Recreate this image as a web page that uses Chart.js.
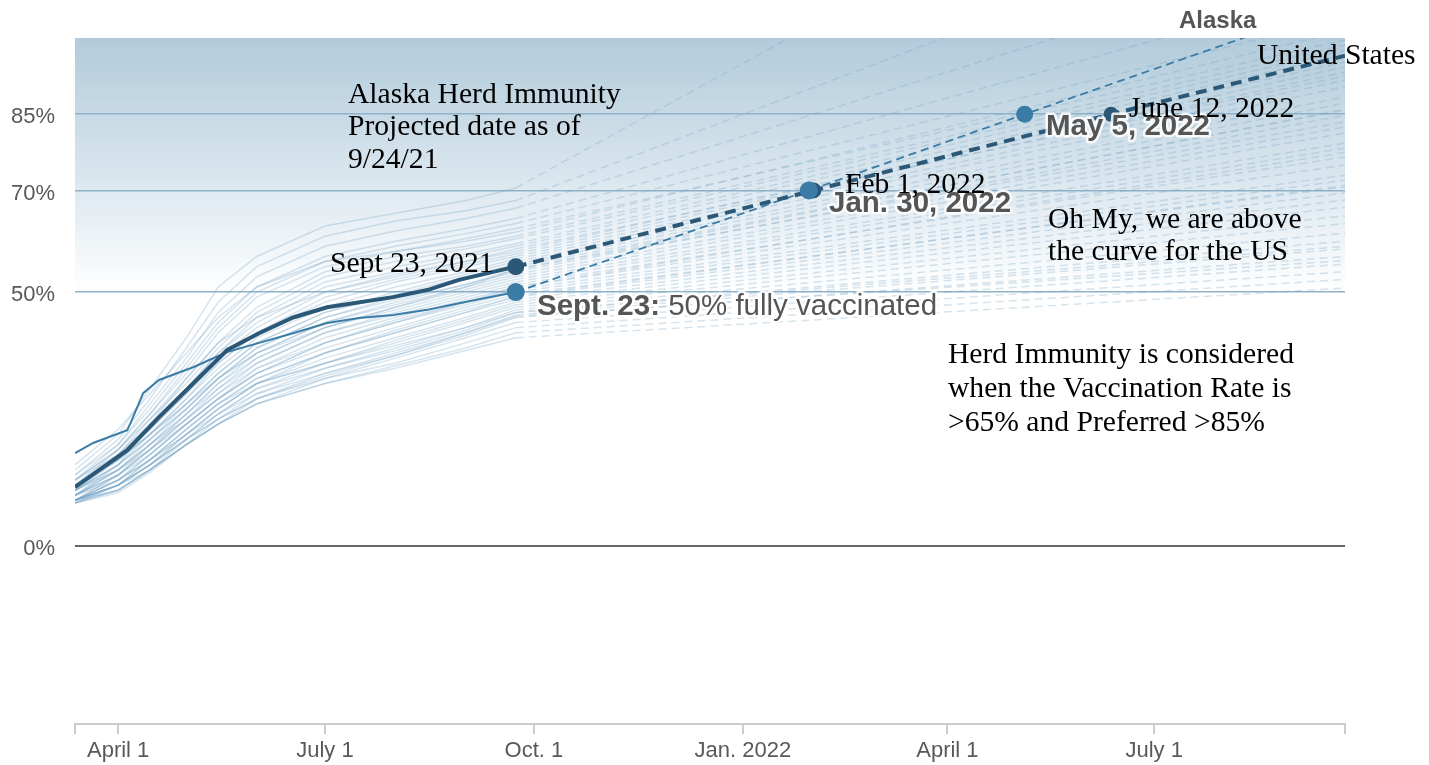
<!DOCTYPE html>
<html><head><meta charset="utf-8">
<script src="https://cdn.jsdelivr.net/npm/chart.js@4.4.1/dist/chart.umd.min.js"></script>
<style>html,body{margin:0;padding:0;background:#fff;}canvas{display:block;}</style>
</head><body>
<canvas id="c" width="1429" height="765"></canvas>
<script>
// ---------- DATA ----------
const START = '2021-03-13';
const END = '2022-09-23';
const tickDates = ['2021-04-01','2021-07-01','2021-10-01','2022-01-01','2022-04-01','2022-07-01'];
const tickLabels = ['April 1','July 1','Oct. 1','Jan. 2022','April 1','July 1'];
const yTicks = [0, 50, 70, 85];

// state lines: observed dates + projection end date
const stateDates = ['2021-03-13','2021-04-01','2021-04-15','2021-05-01','2021-05-15','2021-06-01','2021-07-01','2021-08-01','2021-09-01','2021-09-23','2022-09-23'];
const stateValues = [
  [15,22,31,41,51,57,63,65.5,68,70.5,160],
  [14,21,29,39,48,55,61,64,66,68,130],
  [13,20,28,37,46,53,59,62,64.5,66.5,118],
  [14,20,27,36,44,51,57,60,62.5,64.5,110],
  [13,19,26,35,43,50,56,59,61.5,63.5,104],
  [16,23,30,38,45,51,56,58,60,61.8,101.5],
  [12,19,26,34,42,49,55,58,60.5,62.5,99.6],
  [13,19,25,33,40,47,54,57,59,61,98.6],
  [12,18,25,32,39,46,53,56,58.5,60.5,97.6],
  [13,18,24,31,38,45,52,55,57.5,59.5,96.7],
  [12,18,24,31,38,44,51,54,57,59,95.3],
  [11,17,23,30,37,43,50,53.5,56,58,94.3],
  [12,17,23,30,36,42,49,52.5,55.5,57.5,93.3],
  [10,16,24,33,40,45,50,53,56,58.5,92.5],
  [11,16,22,29,36,42,48,52,55,57,91.7],
  [11,17,22,29,35,41,47,51,54,56.5,90.4],
  [12,17,22,28,34,40,46,50,53.5,56,88.4],
  [11,16,21,28,34,40,46,49.5,53,55.5,87.2],
  [12,17,22,28,33,38,43,47,51,54.5,86],
  [10,15,21,27,33,39,45,49,52.5,55,85.8],
  [11,16,21,27,33,38,44,48,51.5,54,84.8],
  [9,14,20,27,33,39,45,48.5,51.5,54.5,83.5],
  [10,15,20,26,32,38,44,47.5,51,53.5,82.5],
  [11,15,20,26,32,37,43,47,50.5,53,81.3],
  [10,14,19,26,31,37,43,46.5,50,52.5,79.3],
  [10,15,20,25,31,36,42,46,49.5,52,78.3],
  [11,15,19,24,29,34,40,44,48,51,77.5],
  [9,14,19,25,30,36,42,45.5,49,51.5,76.6],
  [10,14,19,25,30,35,41,45,48.5,51,75],
  [9,13,18,24,29,35,40,44.5,48,50.5,73],
  [9,13,18,24,29,34,40,44,47.5,50,72],
  [10,13,17,22,27,32,38,42,46,49.2,71],
  [10,14,18,24,29,34,39,43,47,49.5,70.7],
  [9,13,17,23,28,33,38,42.5,46.5,49,69.5],
  [9,12,17,23,28,33,38,42,46,48.5,68.1],
  [9,13,17,22,27,32,37,41,45,48,66.7],
  [8.5,12,16,22,27,32,36,40.5,44.5,47.5,65],
  [9,12,16,22,26,31,36,40,44,47,63.5],
  [9,12,16,21,26,31,35,39,43,46.5,61.6],
  [9,12,16,21,26,30,35,38.5,42.5,46,60],
  [8.5,12,17,23,28,32,36,39.5,43,46,59],
  [8.5,11,15,21,25,30,34,38,42,45.5,58.5],
  [9,11,15,20,25,29,34,37.5,41.5,45,57],
  [9,12,16,21,25,29,33.5,37.5,42,45.2,56.2],
  [9,12,15,20,24,29,33,37,41,44,55.5],
  [8.5,11,15,20,24,28,33,36,40,43,54],
  [9,11,15,20,24,28,32,35.5,39,42,52.5],
  [8.5,10.5,14.5,20,24,28,32,35,38.5,41,50.8]
];

const usDates = ['2021-03-13','2021-04-05','2021-04-19','2021-05-04','2021-05-19','2021-06-02','2021-06-17','2021-07-02','2021-07-31','2021-08-15','2021-08-29','2021-09-23'];
const usValues = [11.6,18.9,25.4,32,38.6,41.9,45,47,49,50.4,52.4,55];
const usProjDates = ['2021-09-23','2022-02-01','2022-06-12','2022-09-23'];
const usProjValues = [55,70,85,96.5];
const usMilestoneDates = ['2021-09-23','2022-02-01','2022-06-12'];
const usMilestoneValues = [55,70,85];

const akDates = ['2021-03-13','2021-03-21','2021-04-05','2021-04-07','2021-04-12','2021-04-19','2021-05-04','2021-05-19','2021-06-02','2021-06-17','2021-07-02','2021-07-16','2021-07-31','2021-08-15','2021-08-29','2021-09-23'];
const akValues = [18.3,20.3,22.8,24.8,30.1,32.7,35.2,38.2,40,41.9,43.9,44.9,45.5,46.5,47.8,50];
const akProjDates = ['2021-09-23','2022-01-30','2022-05-05','2022-09-23'];
const akProjValues = [50,70,85,107];
const akMilestoneDates = ['2021-09-23','2022-01-30','2022-05-05'];
const akMilestoneValues = [50,70,85];

// ---------- HELPERS ----------
function day(s){
  const [y,m,d] = s.split('-').map(Number);
  const [y0,m0,d0] = START.split('-').map(Number);
  return Math.round((Date.UTC(y,m-1,d) - Date.UTC(y0,m0-1,d0)) / 86400000);
}
function pts(dates, vals){ return dates.map((d,i)=>({x:day(d), y:vals[i]})); }

const US_COLOR = '#2b5877';
const AK_COLOR = '#3b7ca6';
const STATE_COLOR = 'rgba(118,164,198,0.30)';
const projIdx = stateDates.length - 1;

const datasets = [];
stateValues.forEach((vals) => {
  datasets.push({
    data: pts(stateDates, vals),
    borderColor: STATE_COLOR, borderWidth: 1.5, pointRadius: 0, order: 100,
    segment: { borderDash: ctx => ctx.p1DataIndex >= projIdx ? [8,5] : undefined }
  });
});
datasets.push({ data: pts(akDates, akValues), borderColor: AK_COLOR, borderWidth: 2, pointRadius: 0, order: 6 });
datasets.push({ data: pts(akProjDates, akProjValues), borderColor: AK_COLOR, borderWidth: 1.8, borderDash: [8,5], pointRadius: 0, order: 6 });
datasets.push({ data: pts(usDates, usValues), borderColor: US_COLOR, borderWidth: 4, pointRadius: 0, order: 5 });
datasets.push({ data: pts(usProjDates, usProjValues), borderColor: US_COLOR, borderWidth: 4, borderDash: [11,7], pointRadius: 0, order: 5 });
datasets.push({ data: pts(usMilestoneDates, usMilestoneValues), showLine: false, pointRadius: [8.5,8,7.5], pointBackgroundColor: US_COLOR, pointBorderWidth: 0, order: 2 });
datasets.push({ data: pts(akMilestoneDates, akMilestoneValues), showLine: false, pointRadius: [9,9,8.5], pointBackgroundColor: AK_COLOR, pointBorderWidth: 0, order: 1 });

// ---------- PLUGINS ----------
const bgPlugin = {
  id: 'bg',
  beforeDraw(chart){
    const {ctx, chartArea, scales:{y}} = chart;
    const top = y.getPixelForValue(100), bot = y.getPixelForValue(50);
    const g = ctx.createLinearGradient(0, top, 0, bot);
    g.addColorStop(0, 'rgb(178,203,219)');
    g.addColorStop(0.55, 'rgb(218,230,238)');
    g.addColorStop(1, 'rgba(255,255,255,1)');
    ctx.save(); ctx.fillStyle = g;
    ctx.fillRect(chartArea.left, top, chartArea.right - chartArea.left, bot - top);
    ctx.restore();
  }
};

const SERIF = '29.6px "Liberation Serif", "Times New Roman", serif';
const serifNotes = [
  ['Alaska Herd Immunity', 348, 103],
  ['Projected date as of', 348, 135],
  ['9/24/21', 348, 168],
  ['Sept 23, 2021', 330, 272],
  ['Feb 1, 2022', 845, 193],
  ['June 12, 2022', 1129, 117],
  ['United States', 1257, 64],
  ['Oh My, we are above', 1048, 228],
  ['the curve for the US', 1048, 260],
  ['Herd Immunity is considered', 948, 363],
  ['when the Vaccination Rate is', 948, 397],
  ['>65% and Preferred >85%', 948, 431]
];
const textPlugin = {
  id: 'texts',
  afterDraw(chart){
    const ctx = chart.ctx;
    ctx.save();
    ctx.textBaseline = 'alphabetic';
    ctx.textAlign = 'left';
    function halo(parts, x, y){
      let cx = x;
      parts.forEach(([txt, font]) => {
        ctx.font = font;
        ctx.lineJoin = 'round';
        ctx.strokeStyle = 'rgba(255,255,255,0.85)';
        ctx.lineWidth = 5;
        ctx.strokeText(txt, cx, y);
        ctx.fillStyle = '#555555';
        ctx.fillText(txt, cx, y);
        cx += ctx.measureText(txt).width;
      });
    }
    const B = 'bold 29.5px "Liberation Sans", Arial, sans-serif';
    const N = '29.5px "Liberation Sans", Arial, sans-serif';
    halo([['Sept. 23:', B], [' 50% fully vaccinated', N]], 537, 315);
    halo([['Jan. 30, 2022', B]], 829, 212);
    halo([['May 5, 2022', B]], 1046, 135);
    ctx.font = 'bold 24px "Liberation Sans", Arial, sans-serif';
    ctx.fillStyle = '#555555';
    ctx.fillText('Alaska', 1179, 28);
    ctx.font = SERIF;
    ctx.fillStyle = '#000000';
    serifNotes.forEach(([t,x,y]) => ctx.fillText(t, x, y));
    ctx.restore();
  }
};

// ---------- CHART ----------
const tickDays = tickDates.map(day);
new Chart(document.getElementById('c'), {
  type: 'line',
  data: { datasets },
  options: {
    responsive: false, animation: false, devicePixelRatio: 1,
    layout: { padding: { left: 0, right: 84, top: 38, bottom: 0 } },
    plugins: { legend: { display: false }, tooltip: { enabled: false } },
    elements: { line: { tension: 0 } },
    scales: {
      x: {
        type: 'linear', min: 0, max: day(END),
        afterBuildTicks(s){ s.ticks = [0, ...tickDays, day(END)].map(v => ({value: v})); },
        afterFit(s){ s.height = 41; },
        grid: { drawOnChartArea: false, drawTicks: true, tickLength: 10, color: '#cccccc', lineWidth: 2 },
        border: { display: true, color: '#cccccc', width: 2 },
        ticks: {
          autoSkip: false, maxRotation: 0, padding: 4,
          color: '#595959', font: { family: '"Liberation Sans", Arial, sans-serif', size: 22 },
          callback: (v) => { const i = tickDays.indexOf(v); return i >= 0 ? tickLabels[i] : ''; }
        }
      },
      y: {
        type: 'linear', min: -35, max: 100,
        afterBuildTicks(s){ s.ticks = yTicks.map(v => ({value: v})); },
        afterFit(s){ s.width = 75; },
        grid: {
          drawTicks: false,
          color: c => c.tick && c.tick.value === 0 ? '#666666' : '#8fb2c8',
          lineWidth: c => c.tick && c.tick.value === 0 ? 2 : 1.5
        },
        border: { display: false },
        ticks: {
          padding: 20, color: '#595959', labelOffset: 3,
          font: { family: '"Liberation Sans", Arial, sans-serif', size: 22 },
          callback: v => v + '%'
        }
      }
    }
  },
  plugins: [bgPlugin, textPlugin]
});
</script>
</body></html>
